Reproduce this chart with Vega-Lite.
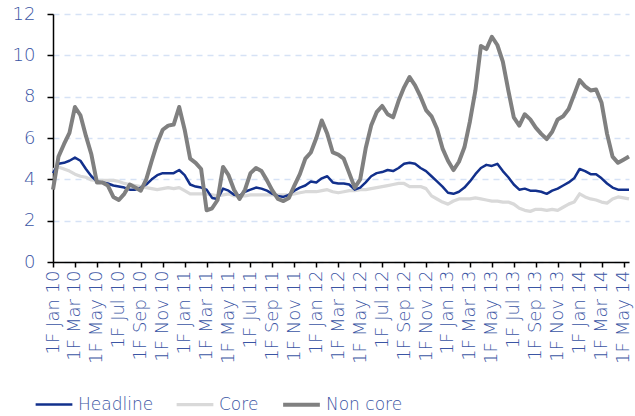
{
  "$schema": "https://vega.github.io/schema/vega-lite/v6.json",
  "width": 576,
  "height": 248,
  "autosize": "none",
  "padding": {"left": 53, "top": 14, "right": 6, "bottom": 154},
  "background": "white",
  "config": {
    "font": "DejaVu Sans",
    "view": {"stroke": null}
  },
  "data": {
    "values": [
      {"p": "1F Jan 10", "Headline": 4.3, "Core": 4.45, "Non core": 3.5},
      {"p": "2F Jan 10", "Headline": 4.75, "Core": 4.6, "Non core": 5.1},
      {"p": "1F Feb 10", "Headline": 4.8, "Core": 4.5, "Non core": 5.7},
      {"p": "2F Feb 10", "Headline": 4.9, "Core": 4.4, "Non core": 6.25},
      {"p": "1F Mar 10", "Headline": 5.05, "Core": 4.25, "Non core": 7.5},
      {"p": "2F Mar 10", "Headline": 4.9, "Core": 4.15, "Non core": 7.1},
      {"p": "1F Apr 10", "Headline": 4.5, "Core": 4.1, "Non core": 6.1},
      {"p": "2F Apr 10", "Headline": 4.15, "Core": 3.97, "Non core": 5.2},
      {"p": "1F May 10", "Headline": 3.9, "Core": 3.95, "Non core": 3.85},
      {"p": "2F May 10", "Headline": 3.85, "Core": 3.95, "Non core": 3.85},
      {"p": "1F Jun 10", "Headline": 3.8, "Core": 3.95, "Non core": 3.7},
      {"p": "2F Jun 10", "Headline": 3.7, "Core": 3.95, "Non core": 3.15},
      {"p": "1F Jul 10", "Headline": 3.65, "Core": 3.9, "Non core": 3.0},
      {"p": "2F Jul 10", "Headline": 3.6, "Core": 3.8, "Non core": 3.3},
      {"p": "1F Aug 10", "Headline": 3.5, "Core": 3.75, "Non core": 3.75},
      {"p": "2F Aug 10", "Headline": 3.5, "Core": 3.7, "Non core": 3.6},
      {"p": "1F Sep 10", "Headline": 3.6, "Core": 3.65, "Non core": 3.45},
      {"p": "2F Sep 10", "Headline": 3.75, "Core": 3.6, "Non core": 4.0},
      {"p": "1F Oct 10", "Headline": 4.0, "Core": 3.55, "Non core": 4.9},
      {"p": "2F Oct 10", "Headline": 4.2, "Core": 3.5, "Non core": 5.75},
      {"p": "1F Nov 10", "Headline": 4.3, "Core": 3.55, "Non core": 6.4},
      {"p": "2F Nov 10", "Headline": 4.3, "Core": 3.6, "Non core": 6.6},
      {"p": "1F Dec 10", "Headline": 4.3, "Core": 3.55, "Non core": 6.65},
      {"p": "2F Dec 10", "Headline": 4.45, "Core": 3.6, "Non core": 7.5},
      {"p": "1F Jan 11", "Headline": 4.2, "Core": 3.45, "Non core": 6.4},
      {"p": "2F Jan 11", "Headline": 3.75, "Core": 3.3, "Non core": 5.0},
      {"p": "1F Feb 11", "Headline": 3.65, "Core": 3.3, "Non core": 4.8},
      {"p": "2F Feb 11", "Headline": 3.6, "Core": 3.3, "Non core": 4.5},
      {"p": "1F Mar 11", "Headline": 3.5, "Core": 3.3, "Non core": 2.5},
      {"p": "2F Mar 11", "Headline": 3.1, "Core": 3.25, "Non core": 2.6},
      {"p": "1F Apr 11", "Headline": 3.05, "Core": 3.2, "Non core": 3.0},
      {"p": "2F Apr 11", "Headline": 3.55, "Core": 3.25, "Non core": 4.6},
      {"p": "1F May 11", "Headline": 3.45, "Core": 3.3, "Non core": 4.2},
      {"p": "2F May 11", "Headline": 3.25, "Core": 3.2, "Non core": 3.5},
      {"p": "1F Jun 11", "Headline": 3.2, "Core": 3.2, "Non core": 3.05},
      {"p": "2F Jun 11", "Headline": 3.4, "Core": 3.2, "Non core": 3.5},
      {"p": "1F Jul 11", "Headline": 3.5, "Core": 3.25, "Non core": 4.3},
      {"p": "2F Jul 11", "Headline": 3.6, "Core": 3.25, "Non core": 4.55},
      {"p": "1F Aug 11", "Headline": 3.55, "Core": 3.25, "Non core": 4.4},
      {"p": "2F Aug 11", "Headline": 3.45, "Core": 3.25, "Non core": 3.95},
      {"p": "1F Sep 11", "Headline": 3.3, "Core": 3.25, "Non core": 3.45},
      {"p": "2F Sep 11", "Headline": 3.2, "Core": 3.25, "Non core": 3.05},
      {"p": "1F Oct 11", "Headline": 3.15, "Core": 3.25, "Non core": 2.95},
      {"p": "2F Oct 11", "Headline": 3.25, "Core": 3.25, "Non core": 3.1},
      {"p": "1F Nov 11", "Headline": 3.45, "Core": 3.3, "Non core": 3.7},
      {"p": "2F Nov 11", "Headline": 3.6, "Core": 3.35, "Non core": 4.25},
      {"p": "1F Dec 11", "Headline": 3.7, "Core": 3.4, "Non core": 5.0},
      {"p": "2F Dec 11", "Headline": 3.9, "Core": 3.4, "Non core": 5.3},
      {"p": "1F Jan 12", "Headline": 3.85, "Core": 3.4, "Non core": 6.0},
      {"p": "2F Jan 12", "Headline": 4.05, "Core": 3.45, "Non core": 6.85},
      {"p": "1F Feb 12", "Headline": 4.15, "Core": 3.5, "Non core": 6.2},
      {"p": "2F Feb 12", "Headline": 3.85, "Core": 3.4, "Non core": 5.3},
      {"p": "1F Mar 12", "Headline": 3.8, "Core": 3.35, "Non core": 5.2},
      {"p": "2F Mar 12", "Headline": 3.8, "Core": 3.4, "Non core": 5.0},
      {"p": "1F Apr 12", "Headline": 3.75, "Core": 3.45, "Non core": 4.3},
      {"p": "2F Apr 12", "Headline": 3.5, "Core": 3.45, "Non core": 3.6},
      {"p": "1F May 12", "Headline": 3.6, "Core": 3.5, "Non core": 4.0},
      {"p": "2F May 12", "Headline": 3.85, "Core": 3.5, "Non core": 5.5},
      {"p": "1F Jun 12", "Headline": 4.15, "Core": 3.55, "Non core": 6.6},
      {"p": "2F Jun 12", "Headline": 4.3, "Core": 3.6, "Non core": 7.25},
      {"p": "1F Jul 12", "Headline": 4.35, "Core": 3.65, "Non core": 7.55},
      {"p": "2F Jul 12", "Headline": 4.45, "Core": 3.7, "Non core": 7.15},
      {"p": "1F Aug 12", "Headline": 4.4, "Core": 3.75, "Non core": 7.0},
      {"p": "2F Aug 12", "Headline": 4.55, "Core": 3.8, "Non core": 7.8},
      {"p": "1F Sep 12", "Headline": 4.75, "Core": 3.8, "Non core": 8.45},
      {"p": "2F Sep 12", "Headline": 4.8, "Core": 3.65, "Non core": 8.95},
      {"p": "1F Oct 12", "Headline": 4.75, "Core": 3.65, "Non core": 8.55},
      {"p": "2F Oct 12", "Headline": 4.55, "Core": 3.65, "Non core": 8.0},
      {"p": "1F Nov 12", "Headline": 4.4, "Core": 3.55, "Non core": 7.35},
      {"p": "2F Nov 12", "Headline": 4.15, "Core": 3.2, "Non core": 7.05},
      {"p": "1F Dec 12", "Headline": 3.9, "Core": 3.05, "Non core": 6.45},
      {"p": "2F Dec 12", "Headline": 3.65, "Core": 2.9, "Non core": 5.5},
      {"p": "1F Jan 13", "Headline": 3.35, "Core": 2.8, "Non core": 4.9},
      {"p": "2F Jan 13", "Headline": 3.3, "Core": 2.95, "Non core": 4.45},
      {"p": "1F Feb 13", "Headline": 3.4, "Core": 3.05, "Non core": 4.85},
      {"p": "2F Feb 13", "Headline": 3.6, "Core": 3.05, "Non core": 5.55},
      {"p": "1F Mar 13", "Headline": 3.9, "Core": 3.05, "Non core": 6.8},
      {"p": "2F Mar 13", "Headline": 4.25, "Core": 3.1, "Non core": 8.3},
      {"p": "1F Apr 13", "Headline": 4.55, "Core": 3.05, "Non core": 10.45},
      {"p": "2F Apr 13", "Headline": 4.7, "Core": 3.0, "Non core": 10.3},
      {"p": "1F May 13", "Headline": 4.65, "Core": 2.95, "Non core": 10.9},
      {"p": "2F May 13", "Headline": 4.75, "Core": 2.95, "Non core": 10.5},
      {"p": "1F Jun 13", "Headline": 4.4, "Core": 2.9, "Non core": 9.7},
      {"p": "2F Jun 13", "Headline": 4.1, "Core": 2.9, "Non core": 8.3},
      {"p": "1F Jul 13", "Headline": 3.75, "Core": 2.8, "Non core": 7.0},
      {"p": "2F Jul 13", "Headline": 3.5, "Core": 2.6, "Non core": 6.6},
      {"p": "1F Aug 13", "Headline": 3.55, "Core": 2.5, "Non core": 7.15},
      {"p": "2F Aug 13", "Headline": 3.45, "Core": 2.45, "Non core": 6.9},
      {"p": "1F Sep 13", "Headline": 3.45, "Core": 2.55, "Non core": 6.5},
      {"p": "2F Sep 13", "Headline": 3.4, "Core": 2.55, "Non core": 6.2},
      {"p": "1F Oct 13", "Headline": 3.3, "Core": 2.5, "Non core": 5.95},
      {"p": "2F Oct 13", "Headline": 3.45, "Core": 2.55, "Non core": 6.3},
      {"p": "1F Nov 13", "Headline": 3.55, "Core": 2.5, "Non core": 6.9},
      {"p": "2F Nov 13", "Headline": 3.7, "Core": 2.65, "Non core": 7.05},
      {"p": "1F Dec 13", "Headline": 3.85, "Core": 2.8, "Non core": 7.4},
      {"p": "2F Dec 13", "Headline": 4.05, "Core": 2.9, "Non core": 8.1},
      {"p": "1F Jan 14", "Headline": 4.5, "Core": 3.3, "Non core": 8.8},
      {"p": "2F Jan 14", "Headline": 4.4, "Core": 3.15, "Non core": 8.5},
      {"p": "1F Feb 14", "Headline": 4.25, "Core": 3.05, "Non core": 8.3},
      {"p": "2F Feb 14", "Headline": 4.25, "Core": 3.0, "Non core": 8.35},
      {"p": "1F Mar 14", "Headline": 4.05, "Core": 2.9, "Non core": 7.7},
      {"p": "2F Mar 14", "Headline": 3.8, "Core": 2.85, "Non core": 6.2},
      {"p": "1F Apr 14", "Headline": 3.6, "Core": 3.05, "Non core": 5.1},
      {"p": "2F Apr 14", "Headline": 3.5, "Core": 3.15, "Non core": 4.8},
      {"p": "1F May 14", "Headline": 3.5, "Core": 3.1, "Non core": 4.95},
      {"p": "2F May 14", "Headline": 3.5, "Core": 3.05, "Non core": 5.1}
    ]
  },
  "transform": [
    {"fold": ["Core", "Headline", "Non core"], "as": ["s", "v"]}
  ],
  "mark": {"type": "line", "strokeJoin": "round", "strokeCap": "butt"},
  "encoding": {
    "x": {
      "field": "p",
      "type": "ordinal",
      "sort": null,
      "scale": {"type": "point", "padding": 0},
      "axis": {
        "title": null,
        "values": ["1F Jan 10", "1F Mar 10", "1F May 10", "1F Jul 10", "1F Sep 10", "1F Nov 10", "1F Jan 11", "1F Mar 11", "1F May 11", "1F Jul 11", "1F Sep 11", "1F Nov 11", "1F Jan 12", "1F Mar 12", "1F May 12", "1F Jul 12", "1F Sep 12", "1F Nov 12", "1F Jan 13", "1F Mar 13", "1F May 13", "1F Jul 13", "1F Sep 13", "1F Nov 13", "1F Jan 14", "1F Mar 14", "1F May 14"],
        "labelAngle": -90,
        "labelAlign": "right",
        "labelBaseline": "middle",
        "labelFont": "DejaVu Sans",
        "labelFontWeight": 200,
        "labelFontSize": 18,
        "labelColor": "#3a55a4",
        "labelPadding": 3,
        "labelOverlap": false,
        "domainColor": "#000000",
        "domainWidth": 1.5,
        "tickColor": "#000000",
        "tickWidth": 1.5,
        "tickSize": 5,
        "grid": false
      }
    },
    "y": {
      "field": "v",
      "type": "quantitative",
      "scale": {"domain": [0, 12], "nice": false},
      "axis": {
        "title": null,
        "values": [0, 2, 4, 6, 8, 10, 12],
        "labelFont": "DejaVu Sans",
        "labelFontWeight": 200,
        "labelFontSize": 18,
        "labelColor": "#3a55a4",
        "labelPadding": 12,
        "domainColor": "#000000",
        "domainWidth": 1.5,
        "tickColor": "#000000",
        "tickWidth": 1.5,
        "tickSize": 6,
        "grid": true,
        "gridColor": "#d6e2f5",
        "gridDash": [6, 5],
        "gridWidth": 1.5
      }
    },
    "color": {
      "field": "s",
      "type": "nominal",
      "scale": {
        "domain": ["Headline", "Core", "Non core"],
        "range": ["#12308c", "#d9d9d9", "#808080"]
      },
      "legend": {
        "title": null,
        "orient": "none",
        "direction": "horizontal",
        "legendX": -19,
        "legendY": 370,
        "symbolType": "stroke",
        "symbolSize": 1350,
        "symbolStrokeWidth": 3.5,
        "labelFont": "DejaVu Sans",
        "labelFontWeight": 200,
        "labelFontSize": 17,
        "labelColor": "#3a55a4",
        "labelOffset": 4,
        "columnPadding": 16
      }
    },
    "strokeWidth": {
      "field": "s",
      "type": "nominal",
      "scale": {
        "domain": ["Headline", "Core", "Non core"],
        "range": [2.5, 4, 4.5]
      },
      "legend": null
    }
  }
}
